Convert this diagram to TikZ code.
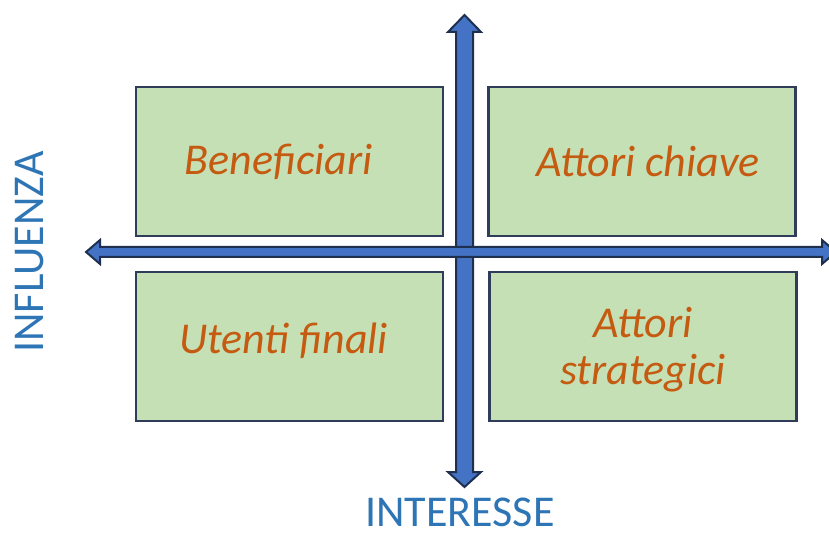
\documentclass[tikz,border=0pt]{standalone}
\usepackage{fontspec}
\setmainfont{Carlito}
\usepackage{tikz}
\usetikzlibrary{positioning}
\definecolor{boxgreen}{HTML}{C5E0B4}
\definecolor{boxline}{HTML}{2F3C5A}
\definecolor{axisblue}{HTML}{4472C4}
\definecolor{axisline}{HTML}{1F2F50}
\definecolor{txtorange}{HTML}{C55A11}
\definecolor{txtblue}{HTML}{2E75B6}
\tikzset{
  quadbox/.style={draw=boxline,line width=2.5pt,fill=boxgreen,
    minimum width=307pt,minimum height=149pt,inner sep=0pt},
  quadtext/.style={text=txtorange,font=\fontsize{44}{47}\selectfont\itshape,align=center},
  axislabel/.style={text=txtblue,font=\fontsize{44}{47}\selectfont,inner sep=0pt},
  axisarrow/.style={draw=axisline,line width=2pt,fill=axisblue,line join=miter}
}

\begin{document}
\begin{tikzpicture}[x=1pt,y=-1pt]
  \useasboundingbox (0,0) rectangle (829,534);

  % quadranti
  \node[quadbox] (benef)   at (289.5,161.5) {};
  \node[quadbox] (chiave)  at (642,161.5) {};
  \node[quadbox] (finali)  at (289.5,346.5) {};
  \node[quadbox] (strateg) at (643,346.5) {};

  \node[quadtext] (benefT)   at ([xshift=-11pt]benef.center) {Beneficiari};
  \node[quadtext] (chiaveT)  at ([xshift=6pt]chiave.center) {Attori chiave};
  \node[quadtext] (finaliT)  at ([xshift=-6pt,yshift=6pt]finali.center) {Utenti finali};
  \node[quadtext] (strategT) at ([yshift=-3pt]strateg.center) {Attori\\strategici};

  % assi
  \draw[axisarrow] (464.5,15) -- (481,32) -- (473,32) -- (473,472) -- (481,472)
    -- (464.5,487) -- (448,472) -- (456,472) -- (456,32) -- (448,32) -- cycle;
  \draw[axisarrow] (86,252) -- (100,240) -- (100,247) -- (822,247) -- (822,240)
    -- (836,252) -- (822,264) -- (822,257) -- (100,257) -- (100,264) -- cycle;

  \node[axislabel,anchor=base] (interesse) at (460,526) {INTERESSE};
  \node[axislabel,rotate=90,anchor=base] (influenza) at (43,252) {INFLUENZA};
\end{tikzpicture}
\end{document}
